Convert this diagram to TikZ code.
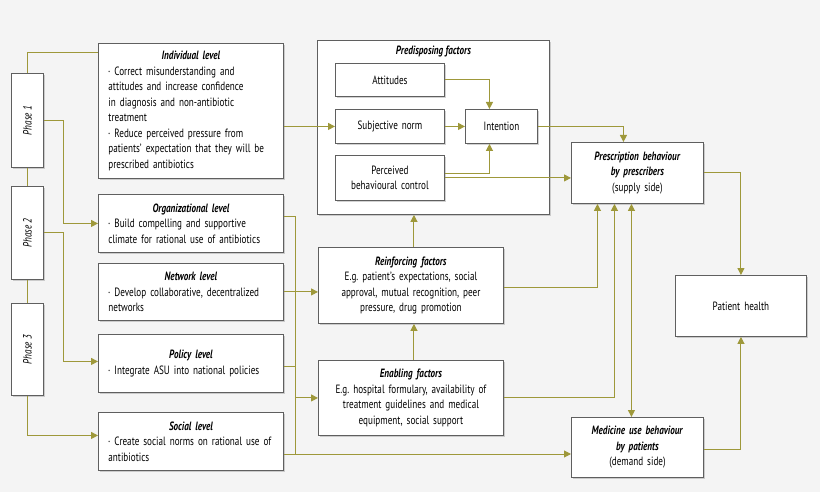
\documentclass[tikz,border=0pt]{standalone}
\usepackage{fontspec}
\setmainfont{PT Sans}[FakeStretch=0.76]
\usetikzlibrary{calc, arrows.meta, shadows}
\definecolor{olive}{RGB}{158,152,58}
\definecolor{bgcol}{RGB}{244,244,244}
\definecolor{edgecol}{RGB}{95,95,95}
\newcommand{\hdr}[1]{\textbf{\textit{#1}}}
\newcommand{\bitem}[1]{\par\hangindent=0.5em\hangafter=1\noindent\makebox[0.5em][l]{\raisebox{0.3ex}{\tiny\textbullet}}#1}
\hyphenpenalty=10000
\exhyphenpenalty=10000
\frenchspacing

\begin{document}
\begin{tikzpicture}[x=1pt, y=-1pt, font=\fontsize{12}{15.5}\selectfont,
    box/.style 2 args={draw=edgecol, fill=white, line width=0.9pt, anchor=north west,
        minimum width=#1, text width=#1-20pt, minimum height=#2, inner sep=0pt,
        drop shadow={shadow xshift=2pt, shadow yshift=-2pt, opacity=0.35, fill=gray}},
    lnk/.style={draw=olive, line width=1pt},
    arr/.style={lnk, -{Triangle[width=7pt,length=7pt]}},
    darr/.style={lnk, {Triangle[width=7pt,length=7pt]}-{Triangle[width=7pt,length=7pt]}}]

    \fill[bgcol] (0,0) rectangle (820,492);
    \useasboundingbox (0,0) rectangle (820,492);

    \node[box={32pt}{94pt}] (ph1) at (11,73) {};
    \node[rotate=90] at (ph1.center) {\textit{Phase 1}};
    \node[box={32pt}{93pt}] (ph2) at (11,186) {};
    \node[rotate=90] at (ph2.center) {\textit{Phase 2}};
    \node[box={32pt}{92pt}] (ph3) at (11,303) {};
    \node[rotate=90] at (ph3.center) {\textit{Phase 3}};

    \node[box={185pt}{135pt}, align=left] (ind) at (98,43) {{\centering\hdr{Individual level}\par}
        \bitem{Correct misunderstanding and\\attitudes and increase confidence\\in diagnosis and non-antibiotic\\treatment}
        \bitem{Reduce perceived pressure from\\patients' expectation that they will be\\prescribed antibiotics}};
    \node[box={185pt}{58pt}, align=left] (org) at (98,194) {{\centering\hdr{Organizational level}\par}
        \bitem{Build compelling and supportive\\climate for rational use of antibiotics}};
    \node[box={185pt}{57pt}, align=left] (net) at (98,263) {{\centering\hdr{Network level}\par}
        \bitem{Develop collaborative, decentralized\\networks}};
    \node[box={185pt}{58pt}, align=left] (pol) at (98,334) {{\centering\hdr{Policy level}\par}
        \bitem{Integrate ASU into national policies}\par\vspace{4pt}};
    \node[box={185pt}{58pt}, align=left] (soc) at (98,412) {{\centering\hdr{Social level}\par}
        \bitem{Create social norms on rational use of\\antibiotics}};

    \node[box={232pt}{174pt}, drop shadow={opacity=0}] (pre) at (317,40) {};
    \node[below=2pt] at (pre.north) {\hdr{Predisposing factors}};
    \node[box={109pt}{33pt}, align=center] (att) at (335,63) {Attitudes};
    \node[box={109pt}{34pt}, align=center] (sub) at (335,109) {Subjective norm};
    \node[box={109pt}{45pt}, align=center] (pbc) at (335,155) {Perceived\\behavioural control};
    \node[box={72pt}{34pt}, align=center] (int) at (465,109) {Intention};

    \node[box={185pt}{76pt}, align=center] (rei) at (318,247) {\hdr{Reinforcing factors}\\E.g. patient's expectations, social\\approval, mutual recognition, peer\\pressure, drug promotion};
    \node[box={185pt}{75pt}, align=center] (ena) at (318,360) {\hdr{Enabling factors}\\E.g. hospital formulary, availability of\\treatment guidelines and medical\\equipment, social support};

    \node[box={132pt}{61pt}, align=center] (psb) at (571,142) {\hdr{Prescription behaviour}\\\hdr{by prescribers}\\(supply side)};
    \node[box={132pt}{60pt}, align=center] (med) at (571,417) {\hdr{Medicine use behaviour}\\\hdr{by patients}\\(demand side)};
    \node[box={131pt}{61pt}, align=center] (hea) at (675,275) {Patient health};

    \coordinate (bustop) at (295,217);
    \coordinate (busbot) at (295,454);

    \draw[lnk] (ph1.north) |- ($(ind.north west)+(0,10)$);
    \draw[lnk] (ph1.south) -- (ph2.north);
    \draw[lnk] (ph2.south) -- (ph3.north);
    \draw[arr] (ph1.east) -- ++(20,0) |- (org.west);
    \draw[arr] (ph2.east) -- ++(20,0) |- ([yshift=2pt]pol.west);
    \draw[arr] (ph3.south) |- ([yshift=6pt]soc.west);

    \draw[arr] (sub.west -| ind.east) -- (sub.west);
    \draw[arr] (att.east) -| ([xshift=-12pt]int.north);
    \draw[arr] (sub.east) -- (int.west);
    \draw[arr] ([yshift=4pt]pbc.east) -| ([xshift=-12pt]int.south);
    \draw[arr] (pbc.east) -- (pbc.east -| psb.west);
    \draw[arr] (int.east) -| ([xshift=-14pt]psb.north);

    \draw[lnk] (org.east |- bustop) -- (bustop) -- (busbot);
    \draw[arr] (net.east) -- (net.east -| rei.west);
    \draw[lnk] ([yshift=-3pt]pol.east) -- ([yshift=-3pt]pol.east -| bustop);
    \draw[arr] (bustop |- ena.west) -- (ena.west);
    \draw[arr] (soc.east |- busbot) -- (med.west |- busbot);

    \draw[arr] ([xshift=3pt]ena.north) -- ([xshift=3pt]rei.south);
    \draw[arr] ([xshift=3pt]rei.north) -- ([xshift=3pt]rei.north |- pre.south);
    \draw[arr] ([yshift=-2pt]rei.east) -| ([xshift=-40pt]psb.south);
    \draw[arr] (ena.east) -| ([xshift=-23pt]psb.south);
    \draw[darr] ([xshift=-6pt]psb.south) -- ([xshift=-6pt]med.north);

    \draw[arr] (psb.east) -| (hea.north);
    \draw[arr] ([yshift=-2pt]med.east) -| (hea.south);
\end{tikzpicture}
\end{document}
